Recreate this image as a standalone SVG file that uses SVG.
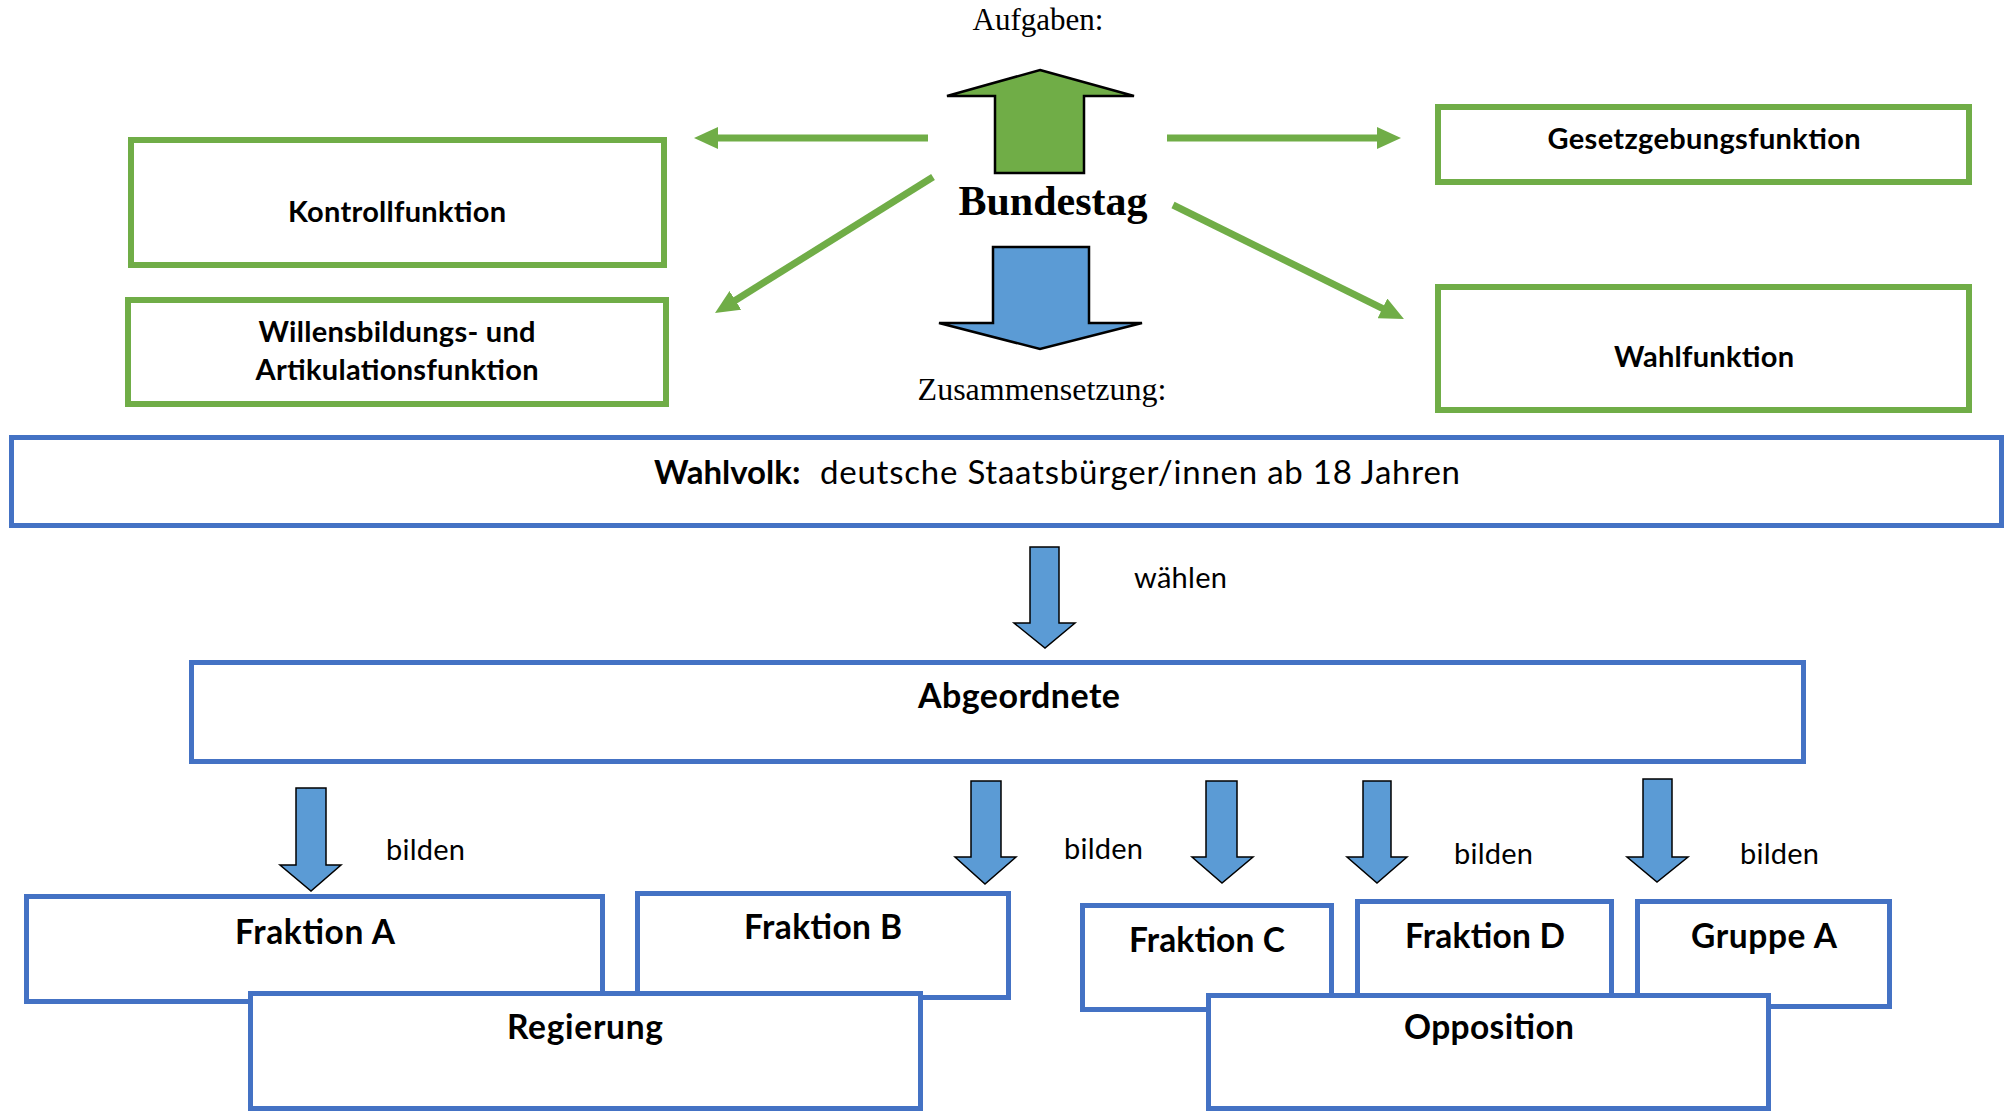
<svg xmlns="http://www.w3.org/2000/svg" width="2006" height="1113" viewBox="0 0 2006 1113">
<style>
.gbox{fill:#fff;stroke:#70AD47;stroke-width:6}
.bbox{fill:#fff;stroke:#4472C4;stroke-width:5}
.glink{fill:none;stroke:#70AD47;stroke-width:7}
.barrow{fill:#5B9BD5;stroke:#000;stroke-width:1.5;stroke-linejoin:miter}
.serif{font-family:'Liberation Serif','Times New Roman',serif;fill:#000}
.lbl{font-family:Lato,'Noto Sans',sans-serif;font-weight:bold;fill:#000;text-anchor:middle}
.reg{font-family:Lato,'Noto Sans',sans-serif;font-weight:normal;fill:#000}
</style>
<defs>
<marker id="gh" markerUnits="userSpaceOnUse" markerWidth="24" markerHeight="22" viewBox="0 0 24 22" refX="14" refY="11" orient="auto">
<path d="M0,0 L24,11 L0,22 z" fill="#70AD47"/>
</marker>
</defs>
<rect width="2006" height="1113" fill="#fff"/>

<g id="bundestag">
<text class="serif" x="1038" y="30" font-size="31" text-anchor="middle">Aufgaben:</text>
<polygon points="1040,70 1134,96 1084,96 1084,173 995,173 995,96 947,96" fill="#70AD47" stroke="#000" stroke-width="2.5"/>
<text class="serif" x="1053" y="215" font-size="42" font-weight="bold" text-anchor="middle">Bundestag</text>
<polygon points="993,247 1089,247 1089,323 1142,323 1040,349 939,323 993,323" fill="#5B9BD5" stroke="#000" stroke-width="2.5"/>
<text class="serif" x="1042" y="400" font-size="32" text-anchor="middle">Zusammensetzung:</text>
</g>

<g id="kontrollfunktion">
<rect class="gbox" x="131" y="140" width="533" height="125"/>
<text class="lbl" x="397" y="222" font-size="29" textLength="218">Kontrollfunktion</text>
</g>
<g id="willensbildung">
<rect class="gbox" x="128" y="300" width="538" height="104"/>
<text class="lbl" x="397" y="342" font-size="29" textLength="277">Willensbildungs- und</text>
<text class="lbl" x="397" y="380" font-size="29" textLength="283">Artikulationsfunktion</text>
</g>
<g id="gesetzgebung">
<rect class="gbox" x="1438" y="107" width="531" height="75"/>
<text class="lbl" x="1704" y="149" font-size="29" textLength="313">Gesetzgebungsfunktion</text>
</g>
<g id="wahlfunktion">
<rect class="gbox" x="1438" y="287" width="531" height="123"/>
<text class="lbl" x="1704" y="367" font-size="29" textLength="180">Wahlfunktion</text>
</g>

<g id="connectors">
<line class="glink" x1="928" y1="138" x2="704" y2="138" marker-end="url(#gh)"/>
<line class="glink" x1="1167" y1="138" x2="1391" y2="138" marker-end="url(#gh)"/>
<line class="glink" x1="933" y1="177" x2="723.5" y2="307.7" marker-end="url(#gh)"/>
<line class="glink" x1="1173" y1="205" x2="1395" y2="314.6" marker-end="url(#gh)"/>
<polygon class="barrow" points="1030,547 1059,547 1059,623 1075,623 1045,648 1014,623 1030,623"/>
<polygon class="barrow" points="296,788 326,788 326,865 341,865 311,891 280,865 296,865"/>
<polygon class="barrow" points="971,781 1001,781 1001,857 1016,857 985,884 955,857 971,857"/>
<polygon class="barrow" points="1206,781 1237,781 1237,857 1253,857 1222,883 1192,857 1206,857"/>
<polygon class="barrow" points="1363,781 1391,781 1391,857 1407,857 1377,883 1347,857 1363,857"/>
<polygon class="barrow" points="1643,779 1672,779 1672,857 1688,857 1657,882 1627,857 1643,857"/>
<text class="reg" x="1134" y="588" font-size="29" textLength="93">wählen</text>
<text class="reg" x="386" y="860" font-size="29" textLength="79">bilden</text>
<text class="reg" x="1064" y="859" font-size="29" textLength="79">bilden</text>
<text class="reg" x="1454" y="864" font-size="29" textLength="79">bilden</text>
<text class="reg" x="1740" y="864" font-size="29" textLength="79">bilden</text>
</g>

<g id="wahlvolk">
<rect class="bbox" x="11.5" y="437.5" width="1990" height="88"/>
<text y="484" font-size="33" font-family="Lato,'Noto Sans',sans-serif" fill="#000"><tspan x="654" font-weight="bold">Wahlvolk: </tspan><tspan x="820" textLength="640">deutsche Staatsbürger/innen ab 18 Jahren</tspan></text>
</g>
<g id="abgeordnete">
<rect class="bbox" x="191.5" y="662.5" width="1612" height="99"/>
<text class="lbl" x="1019" y="708" font-size="34" textLength="202">Abgeordnete</text>
</g>

<g id="fraktion-a">
<rect class="bbox" x="26.5" y="896.5" width="576" height="105"/>
<text class="lbl" x="315" y="944" font-size="33.5" textLength="160">Fraktion A</text>
</g>
<g id="fraktion-b">
<rect class="bbox" x="637.5" y="893.5" width="371" height="104"/>
<text class="lbl" x="823" y="939" font-size="33.5" textLength="158">Fraktion B</text>
</g>
<g id="regierung">
<rect class="bbox" x="250.5" y="993.5" width="670" height="115"/>
<text class="lbl" x="585" y="1039" font-size="33.5" textLength="156">Regierung</text>
</g>

<g id="fraktion-c">
<rect class="bbox" x="1082.5" y="905.5" width="249" height="104"/>
<text class="lbl" x="1207" y="952" font-size="33.5" textLength="156">Fraktion C</text>
</g>
<g id="fraktion-d">
<rect class="bbox" x="1357.5" y="901.5" width="254" height="100"/>
<text class="lbl" x="1485" y="948" font-size="33.5" textLength="160">Fraktion D</text>
</g>
<g id="gruppe-a">
<rect class="bbox" x="1637.5" y="901.5" width="252" height="105"/>
<text class="lbl" x="1764" y="948" font-size="33.5" textLength="146">Gruppe A</text>
</g>
<g id="opposition">
<rect class="bbox" x="1208.5" y="995.5" width="560" height="113"/>
<text class="lbl" x="1489" y="1039" font-size="33.5" textLength="170">Opposition</text>
</g>
</svg>
